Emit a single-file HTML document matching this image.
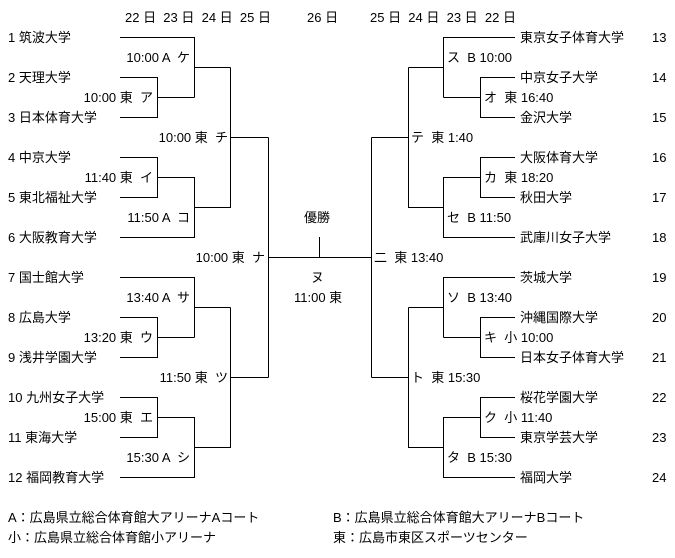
<!DOCTYPE html>
<html><head><meta charset="utf-8"><style>
body{margin:0;background:#fff;}
svg{display:block;font-family:"Liberation Sans","Noto Sans CJK JP",sans-serif;font-size:13px;}
text{white-space:pre;}
</style></head><body>
<svg width="675" height="558" xmlns="http://www.w3.org/2000/svg">
<g stroke="#000" stroke-width="1" fill="none" shape-rendering="crispEdges">
<path d="M120 37.5H194.5V97.5M120 77.5H157.5V117.5H120M157.5 97.5H194.5M194.5 67.5H230.5"/>
<path d="M120 157.5H157.5V197.5H120M157.5 177.5H194.5V237.5H120M194.5 207.5H230.5V67.5M230.5 137.5H268.5"/>
<path d="M120 277.5H194.5V337.5M120 317.5H157.5V357.5H120M157.5 337.5H194.5M194.5 307.5H230.5"/>
<path d="M120 397.5H157.5V437.5H120M157.5 417.5H194.5V477.5H120M194.5 447.5H230.5V307.5M230.5 377.5H268.5"/>
<path d="M268.5 137.5V377.5M268.5 257.5H371.5M319.5 237V257.5"/>
<path d="M515 37.5H443.5V97.5M515 77.5H480.5V117.5H515M480.5 97.5H443.5M443.5 67.5H408.5"/>
<path d="M515 157.5H480.5V197.5H515M480.5 177.5H443.5V237.5H515M443.5 207.5H408.5V67.5M408.5 137.5H371.5"/>
<path d="M515 277.5H443.5V337.5M515 317.5H480.5V357.5H515M480.5 337.5H443.5M443.5 307.5H408.5"/>
<path d="M515 397.5H480.5V437.5H515M480.5 417.5H443.5V477.5H515M443.5 447.5H408.5V307.5M408.5 377.5H371.5"/>
<path d="M371.5 137.5V377.5"/>
</g>
<g fill="#000">
<text x="125" y="22">22 日  23 日  24 日  25 日</text>
<text x="307" y="22">26 日</text>
<text x="370" y="22">25 日  24 日  23 日  22 日</text>

<text x="8" y="42">1 筑波大学</text>
<text x="8" y="82">2 天理大学</text>
<text x="8" y="122">3 日本体育大学</text>
<text x="8" y="162">4 中京大学</text>
<text x="8" y="202">5 東北福祉大学</text>
<text x="8" y="242">6 大阪教育大学</text>
<text x="8" y="282">7 国士館大学</text>
<text x="8" y="322">8 広島大学</text>
<text x="8" y="362">9 浅井学園大学</text>
<text x="8" y="402">10 九州女子大学</text>
<text x="8" y="442">11 東海大学</text>
<text x="8" y="482">12 福岡教育大学</text>

<g text-anchor="end">
<text x="190" y="62">10:00 A  ケ</text>
<text x="153" y="102">10:00 東  ア</text>
<text x="228" y="142">10:00 東  チ</text>
<text x="153" y="182">11:40 東  イ</text>
<text x="190" y="222">11:50 A  コ</text>
<text x="265" y="262">10:00 東  ナ</text>
<text x="190" y="302">13:40 A  サ</text>
<text x="153" y="342">13:20 東  ウ</text>
<text x="228" y="382">11:50 東  ツ</text>
<text x="153" y="422">15:00 東  エ</text>
<text x="190" y="462">15:30 A  シ</text>
</g>

<text x="304" y="222">優勝</text>
<text x="311" y="282">ヌ</text>
<text x="294" y="302">11:00 東</text>

<text x="520" y="42">東京女子体育大学</text>
<text x="520" y="82">中京女子大学</text>
<text x="520" y="122">金沢大学</text>
<text x="520" y="162">大阪体育大学</text>
<text x="520" y="202">秋田大学</text>
<text x="520" y="242">武庫川女子大学</text>
<text x="520" y="282">茨城大学</text>
<text x="520" y="322">沖縄国際大学</text>
<text x="520" y="362">日本女子体育大学</text>
<text x="520" y="402">桜花学園大学</text>
<text x="520" y="442">東京学芸大学</text>
<text x="520" y="482">福岡大学</text>

<text x="652" y="42">13</text>
<text x="652" y="82">14</text>
<text x="652" y="122">15</text>
<text x="652" y="162">16</text>
<text x="652" y="202">17</text>
<text x="652" y="242">18</text>
<text x="652" y="282">19</text>
<text x="652" y="322">20</text>
<text x="652" y="362">21</text>
<text x="652" y="402">22</text>
<text x="652" y="442">23</text>
<text x="652" y="482">24</text>

<text x="447" y="62">ス  B 10:00</text>
<text x="484" y="102">オ  東 16:40</text>
<text x="411" y="142">テ  東 1:40</text>
<text x="484" y="182">カ  東 18:20</text>
<text x="447" y="222">セ  B 11:50</text>
<text x="374" y="262">二  東 13:40</text>
<text x="447" y="302">ソ  B 13:40</text>
<text x="484" y="342">キ  小 10:00</text>
<text x="411" y="382">ト  東 15:30</text>
<text x="484" y="422">ク  小 11:40</text>
<text x="447" y="462">タ  B 15:30</text>

<text x="8" y="522">A：広島県立総合体育館大アリーナAコート</text>
<text x="333" y="522">B：広島県立総合体育館大アリーナBコート</text>
<text x="8" y="542">小：広島県立総合体育館小アリーナ</text>
<text x="333" y="542">東：広島市東区スポーツセンター</text>
</g>
</svg>
</body></html>
